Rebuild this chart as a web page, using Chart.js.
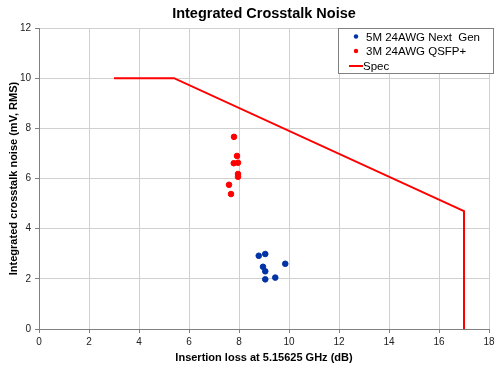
<!DOCTYPE html>
<html><head><meta charset="utf-8">
<script src="https://cdn.jsdelivr.net/npm/chart.js@4"></script>
<style>html,body{margin:0;padding:0;background:#fff;}#wrap{width:500px;height:370px;}</style>
</head><body><div id="wrap"><canvas id="c" width="500" height="370"></canvas></div>
<script>
const xTicks = [0,2,4,6,8,10,12,14,16,18];
const yTicks = [0,2,4,6,8,10,12];
const seriesNames = ["5M 24AWG Next  Gen", "3M 24AWG QSFP+", "Spec"];
const nextGenX = [8.79, 9.05, 9.85, 8.96, 9.05, 9.05, 9.45];
const nextGenY = [2.92, 2.99, 2.60, 2.48, 2.30, 1.98, 2.05];
const qsfpX = [7.80, 7.92, 7.79, 7.96, 7.96, 7.96, 7.60, 7.68];
const qsfpY = [7.66, 6.90, 6.61, 6.63, 6.18, 6.07, 5.75, 5.38];
const specX = [3.0, 5.4, 17.0, 17.0];
const specY = [10.0, 10.0, 4.7, 0.0];

const pts = (xs, ys) => xs.map((x, i) => ({x: x, y: ys[i]}));
const FONT = "'Liberation Sans', Arial, sans-serif";

const legendBox = {
  id: 'legendBox',
  afterDraw(chart) {
    const ctx = chart.ctx;
    const x0 = 338, y0 = 28, w = 155, h = 45;
    ctx.save();
    ctx.fillStyle = '#fff';
    ctx.fillRect(x0, y0, w, h);
    ctx.strokeStyle = '#808080';
    ctx.lineWidth = 1;
    ctx.strokeRect(x0 + 0.5, y0 + 0.5, w, h);
    ctx.font = '11.5px ' + FONT;
    ctx.textBaseline = 'middle';
    ctx.fillStyle = '#000';
    const rows = [36.5, 51, 66];
    chart.data.datasets.forEach((ds, i) => {
      const cy = rows[i];
      if (ds.showLine) {
        ctx.strokeStyle = ds.borderColor;
        ctx.lineWidth = 2;
        ctx.beginPath();
        ctx.moveTo(349, cy); ctx.lineTo(363, cy); ctx.stroke();
        ctx.fillStyle = '#000';
        ctx.fillText(ds.label, 363, cy + 1);
      } else {
        ctx.fillStyle = ds.backgroundColor;
        ctx.beginPath();
        ctx.arc(356, cy, 2.2, 0, Math.PI * 2);
        ctx.fill();
        ctx.fillStyle = '#000';
        ctx.fillText(ds.label, 366, cy + 1);
      }
    });
    ctx.restore();
  }
};

new Chart(document.getElementById('c'), {
  type: 'scatter',
  data: {
    datasets: [
      {label: seriesNames[0], data: pts(nextGenX, nextGenY), backgroundColor: '#0033a6', borderColor: '#0033a6', pointRadius: 2.8, showLine: false},
      {label: seriesNames[1], data: pts(qsfpX, qsfpY), backgroundColor: '#ff0000', borderColor: '#ff0000', pointRadius: 2.8, showLine: false},
      {label: seriesNames[2], data: pts(specX, specY), borderColor: '#ff0000', backgroundColor: '#ff0000', borderWidth: 2, pointRadius: 0, showLine: true, tension: 0}
    ]
  },
  options: {
    responsive: false,
    animation: false,
    devicePixelRatio: 1,
    layout: {padding: {top: 1, right: 11, left: 0, bottom: 0}},
    plugins: {
      legend: {display: false},
      tooltip: {enabled: false},
      title: {display: true, fullSize: false, text: 'Integrated Crosstalk Noise', color: '#000',
        font: {family: FONT, size: 14.5, weight: 'bold'}, padding: {top: 4, bottom: 5.6}}
    },
    scales: {
      x: {
        type: 'linear', min: 0, max: 18,
        afterBuildTicks: s => { s.ticks = xTicks.map(v => ({value: v})); },
        afterFit: s => { s.height = 41; },
        grid: {color: '#d0d0d0', tickColor: '#808080', tickLength: 4, drawOnChartArea: true},
        border: {color: '#808080', width: 1},
        ticks: {color: '#222', font: {family: FONT, size: 10}, padding: 3, maxRotation: 0},
        title: {display: true, text: 'Insertion loss at 5.15625 GHz (dB)', color: '#000',
          font: {family: FONT, size: 11, weight: 'bold'}, padding: {top: 0, bottom: 5}}
      },
      y: {
        type: 'linear', min: 0, max: 12,
        afterBuildTicks: s => { s.ticks = yTicks.map(v => ({value: v})); },
        afterFit: s => { s.width = 39; },
        grid: {color: '#d0d0d0', tickColor: '#808080', tickLength: 4},
        border: {color: '#808080', width: 1},
        ticks: {color: '#222', font: {family: FONT, size: 10}, padding: 4},
        title: {display: true, text: 'Integrated crosstalk noise (mV, RMS)', color: '#000',
          font: {family: FONT, size: 11, weight: 'bold'}, padding: {top: 7, bottom: 0}}
      }
    }
  },
  plugins: [legendBox]
});
</script>
</body></html>
